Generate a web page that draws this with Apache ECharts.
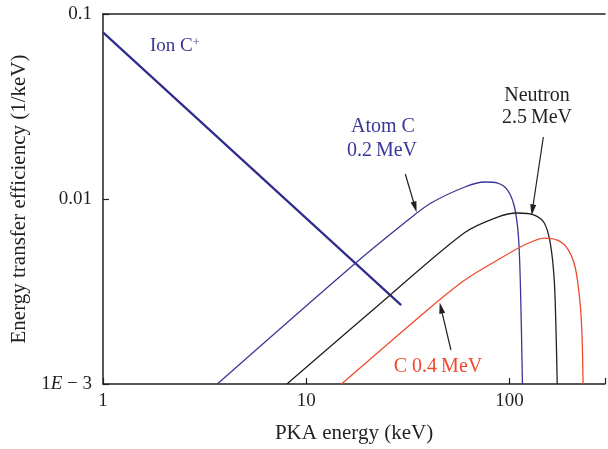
<!DOCTYPE html>
<html>
<head>
<meta charset="utf-8">
<title>Energy transfer efficiency</title>
<script src="https://cdn.jsdelivr.net/npm/echarts@6/dist/echarts.min.js"></script>
<style>
  html, body { margin: 0; padding: 0; background: #fff; }
  #main { width: 608px; height: 449px; }
</style>
</head>
<body>
<div id="main"></div>
<script>
// values: [PKA energy keV, efficiency 1/keV]
var ionC = [[1, 0.0796], [29.3, 0.00267]];
var atomC = [[3.65, 0.001], [17.5, 0.00451], [31.7, 0.0077], [41.1, 0.00951], [60.3, 0.01161],
  [75.5, 0.01236], [87.4, 0.0122], [97.8, 0.01118], [105.8, 0.00905], [110.7, 0.00623],
  [113.2, 0.00334], [115.8, 0.001]];
var neutron = [[8.03, 0.001], [25.9, 0.00303], [60.3, 0.00659], [87.4, 0.00799],
  [109.4, 0.0084], [132.5, 0.00819], [148.3, 0.00742], [158.7, 0.00578], [166, 0.00365],
  [169.7, 0.00179], [171.7, 0.001]];
var carbon04 = [[14.9, 0.001], [41.1, 0.00261], [60.3, 0.00365], [87.4, 0.00468],
  [118.4, 0.00564], [148.3, 0.00615], [171.7, 0.006], [192.2, 0.00543], [210.3, 0.00429],
  [222.4, 0.00274], [227.5, 0.00179], [230.1, 0.001]];

// arrows: [tail, head]
var atomArrow = [[30.7, 0.01365], [34.3, 0.00905]];
var neutronArrow = [[146.7, 0.02163], [129.6, 0.00872]];
var carbonArrow = [[51.5, 0.001527], [46.0, 0.002576]];

var xTicks = [1, 10, 100];
var yTicks = [0.001, 0.01, 0.1];

var BLUE = '#2e2b8c', BLUE_T = '#3a3796', RED = '#ef4a2d', INK = '#231f20';
var FONT = 'Liberation Serif';

var myChart = echarts.init(document.getElementById('main'));

function arrow(pts) {
  return {
    silent: true,
    symbol: ['none', 'triangle'],
    symbolSize: [6, 11],
    label: { show: false },
    lineStyle: { color: INK, width: 1.2, type: 'solid' },
    emphasis: { disabled: true },
    data: [[{ coord: pts[0] }, { coord: pts[1] }]]
  };
}

function curve(name, data, color, width, mark) {
  var s = {
    name: name,
    type: 'line',
    data: data,
    showSymbol: false,
    smooth: 0.3,
    lineStyle: { color: color, width: width },
    itemStyle: { color: color },
    emphasis: { disabled: true }
  };
  if (mark) s.markLine = arrow(mark);
  return s;
}

function near(v, list) {
  for (var i = 0; i < list.length; i++) {
    if (Math.abs(Math.log10(v) - Math.log10(list[i])) < 1e-6) return list[i];
  }
  return null;
}

var axisLine = { lineStyle: { color: INK, width: 1.5 } };
var axisTick = { inside: true, length: 6, lineStyle: { color: INK, width: 1.2 } };

var option = {
  animation: false,
  textStyle: { fontFamily: FONT },
  grid: { left: 103, top: 14, right: 0, bottom: 65 },
  xAxis: [{
    type: 'log', logBase: 10, min: 1, max: 295,
    name: 'PKA energy (keV)', nameLocation: 'middle', nameGap: 39,
    nameTextStyle: { fontFamily: FONT, fontSize: 21, color: INK },
    axisLine: axisLine, axisTick: axisTick, splitLine: { show: false },
    axisLabel: {
      margin: 8, fontFamily: FONT, fontSize: 19, color: INK,
      formatter: function (v) { var t = near(v, xTicks); return t === null ? '' : String(t); }
    }
  }, {
    // top frame line only
    type: 'log', logBase: 10, min: 1, max: 295, position: 'top',
    axisLine: axisLine,
    axisTick: { show: false }, axisLabel: { show: false }, splitLine: { show: false }
  }],
  yAxis: {
    type: 'log', logBase: 10, min: 0.001, max: 0.1,
    name: 'Energy transfer efficiency (1/keV)', nameLocation: 'middle', nameGap: 73,
    nameTextStyle: { fontFamily: FONT, fontSize: 21, color: INK },
    axisLine: axisLine, axisTick: axisTick, splitLine: { show: false },
    axisLabel: {
      margin: 11, fontFamily: FONT, fontSize: 19, color: INK,
      formatter: function (v) {
        var t = near(v, yTicks);
        if (t === null) return '';
        if (t === 0.001) return '1{i|E} \u2212 3';
        return String(t);
      },
      rich: { i: { fontStyle: 'italic', fontFamily: FONT, fontSize: 19, color: INK } }
    }
  },
  graphic: [
    { type: 'text', left: 150, top: 37, style: {
      text: 'Ion C{s|+}', fill: BLUE_T, font: '19px ' + FONT,
      rich: { s: { fontSize: 12, verticalAlign: 'top', fill: BLUE_T, fontFamily: FONT } } } },
    { type: 'text', x: 383, y: 127, style: {
      text: 'Atom C', fill: BLUE_T, font: '20px ' + FONT, align: 'center', verticalAlign: 'middle' } },
    { type: 'text', x: 382, y: 151, style: {
      text: '0.2\u2009MeV', fill: BLUE_T, font: '20px ' + FONT, align: 'center', verticalAlign: 'middle' } },
    { type: 'text', x: 537, y: 96, style: {
      text: 'Neutron', fill: INK, font: '20px ' + FONT, align: 'center', verticalAlign: 'middle' } },
    { type: 'text', x: 537, y: 118, style: {
      text: '2.5\u2009MeV', fill: INK, font: '20px ' + FONT, align: 'center', verticalAlign: 'middle' } },
    { type: 'text', x: 438, y: 367, style: {
      text: 'C 0.4\u2009MeV', fill: RED, font: '20px ' + FONT, align: 'center', verticalAlign: 'middle' } }
  ],
  series: [
    curve('Ion C+', ionC, BLUE, 2.2),
    curve('Atom C 0.2 MeV', atomC, BLUE_T, 1.3, atomArrow),
    curve('Neutron 2.5 MeV', neutron, INK, 1.3, neutronArrow),
    curve('C 0.4 MeV', carbon04, RED, 1.3, carbonArrow)
  ]
};

myChart.setOption(option);
</script>
</body>
</html>
